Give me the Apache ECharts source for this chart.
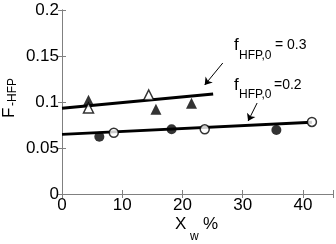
<!DOCTYPE html>
<html><head><meta charset="utf-8">
<script src="https://cdn.jsdelivr.net/npm/echarts@6/dist/echarts.min.js"></script>
<style>html,body{margin:0;padding:0;background:#fff}#c{width:336px;height:244px}</style>
</head><body><div id="c"></div>
<script>
// data
const xTicks = [0, 10, 20, 30, 40];
const yTicks = [0, 0.05, 0.1, 0.15, 0.2];
const triFilled = [[4.4, 0.102], [15.6, 0.092], [21.5, 0.0986]];
const triOpen = [[4.4, 0.0935], [14.4, 0.1076]];
const circFilled = [[6.2, 0.0623], [18.2, 0.0703], [35.6, 0.0696]];
const circOpen = [[8.6, 0.0666], [23.7, 0.0703], [41.5, 0.0783]];
const fit03 = [[0, 0.0932], [25.1, 0.1087]];
const fit02 = [[0, 0.0649], [41.5, 0.078]];
const arrow03 = [[26.7, 0.1424], [23.7, 0.1185]];
const arrow02 = [[32.4, 0.0989], [30.9, 0.0793]];

const FONT = 'Liberation Sans';
const gray = '#808080';
const chart = echarts.init(document.getElementById('c'), null, {renderer: 'canvas'});

function axisCommon(showLabel) {
  return {
    axisLine: {show: true, lineStyle: {color: gray, width: 1}},
    axisTick: {show: true, inside: true, length: 4, lineStyle: {color: gray}},
    splitLine: {show: false},
    axisLabel: {show: showLabel, color: '#000', fontSize: 17, fontFamily: FONT}
  };
}
const xa = (pos, lab) => Object.assign({type: 'value', min: 0, max: 45, interval: 10, position: pos}, axisCommon(lab));
const ya = (pos, lab) => Object.assign({type: 'value', min: 0, max: 0.2, interval: 0.05, position: pos}, axisCommon(lab));
const xAxis0 = xa('bottom', true);
xAxis0.axisLabel.margin = 3;
xAxis0.axisLabel.formatter = v => xTicks.indexOf(v) >= 0 ? String(v) : '';
const yAxis0 = ya('left', true);
yAxis0.axisLabel.margin = 3;
yAxis0.axisLabel.formatter = v => {
  const m = yTicks.find(t => Math.abs(t - v) < 1e-9);
  return m === undefined ? '' : String(m);
};

const arrowLine = a => [{coord: a[0], symbol: 'none'}, {coord: a[1], symbol: 'arrow'}];

const option = {
  animation: false,
  grid: {left: 62, right: 3, top: 10, bottom: 50, containLabel: false},
  xAxis: [xAxis0, xa('top', false)],
  yAxis: [yAxis0, ya('right', false)],
  series: [
    {type: 'line', data: fit03, symbol: 'none', lineStyle: {color: '#000', width: 2.8}, z: 2,
     markLine: {silent: true, symbolSize: 7, label: {show: false}, lineStyle: {color: '#000', width: 1, type: 'solid'},
                data: [arrowLine(arrow03), arrowLine(arrow02)]}},
    {type: 'line', data: fit02, symbol: 'none', lineStyle: {color: '#000', width: 2.8}, z: 2},
    {type: 'scatter', data: triFilled, symbol: 'triangle', symbolSize: 11, itemStyle: {color: '#000'}, z: 3},
    {type: 'scatter', data: triOpen, symbol: 'triangle', symbolSize: 10, itemStyle: {color: '#fff', borderColor: '#000', borderWidth: 1.5}, z: 3},
    {type: 'scatter', data: circFilled, symbol: 'circle', symbolSize: 10, itemStyle: {color: '#000'}, z: 3},
    {type: 'scatter', data: circOpen, symbol: 'circle', symbolSize: 9, itemStyle: {color: '#fff', borderColor: '#000', borderWidth: 1.5}, z: 3}
  ],
  graphic: []
};

function txt(x, y, text, size, extra) {
  return Object.assign({type: 'text', x: x, y: y, silent: true,
    style: {text: text, fill: '#000', font: size + 'px "' + FONT + '"', fontSize: size, fontFamily: FONT,
            textAlign: 'left', align: 'left', textVerticalAlign: 'middle', verticalAlign: 'middle'}}, extra || {});
}
option.graphic = [
  txt(234, 45, 'f', 17), txt(239, 56, 'HFP,0', 12), txt(275, 45, '= 0.3', 14),
  txt(234, 85, 'f', 17), txt(239, 95, 'HFP,0', 12), txt(274, 85, '=0.2', 14),
  txt(175, 224, 'X', 17), txt(190, 237, 'w', 12), txt(203, 224, '%', 17),
  {type: 'group', x: 9, y: 118, rotation: Math.PI / 2, silent: true,
   children: [txt(0, 0, 'F', 17), txt(12, 4, '-HFP', 12)]}
];
chart.setOption(option);
</script>
</body></html>
